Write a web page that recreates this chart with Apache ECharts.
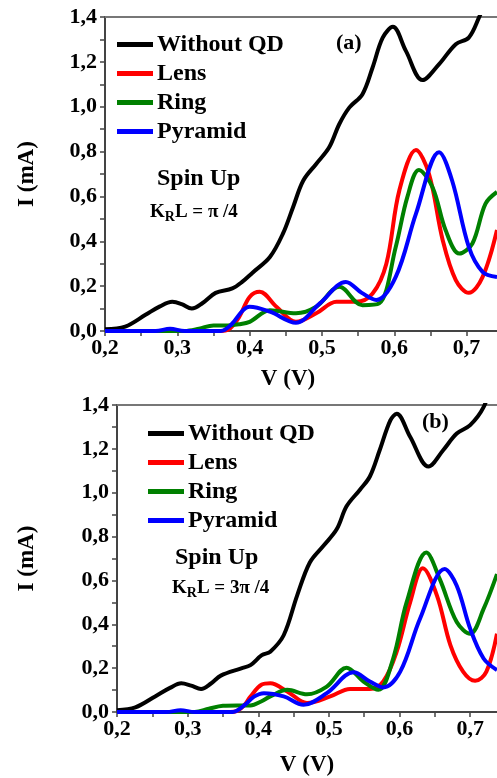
<!DOCTYPE html>
<html>
<head>
<meta charset="utf-8">
<script src="https://cdn.jsdelivr.net/npm/echarts@6/dist/echarts.min.js"></script>
<style>
html,body{margin:0;padding:0;background:#fff;}
#chart{width:497px;height:778px;}
</style>
</head>
<body>
<div id="chart"></div>
<script>
// ---- data: panel (a), K_R L = pi/4 ----
var seriesNames = ['Without QD', 'Lens', 'Ring', 'Pyramid'];
var xTickLabelsNote = ['0,2','0,3','0,4','0,5','0,6','0,7'];
var yTickLabelsNote = ['0,0','0,2','0,4','0,6','0,8','1,0','1,2','1,4'];

var aWithout = [[0.200,0.008],[0.228,0.02],[0.256,0.072],[0.276,0.11],[0.293,0.13],[0.306,0.12],[0.320,0.10],[0.335,0.125],[0.353,0.17],[0.376,0.19],[0.390,0.22],[0.404,0.26],[0.428,0.33],[0.446,0.434],[0.460,0.552],[0.474,0.67],[0.492,0.745],[0.510,0.819],[0.524,0.923],[0.538,0.997],[0.556,1.056],[0.570,1.175],[0.584,1.308],[0.598,1.356],[0.616,1.249],[0.639,1.119],[0.662,1.19],[0.685,1.279],[0.703,1.308],[0.717,1.397],[0.730,1.5]];
var aLens = [[0.200,0],[0.300,0],[0.360,0],[0.370,0.005],[0.385,0.06],[0.400,0.152],[0.414,0.175],[0.437,0.108],[0.464,0.041],[0.492,0.079],[0.520,0.13],[0.547,0.13],[0.570,0.167],[0.589,0.30],[0.607,0.627],[0.630,0.807],[0.648,0.70],[0.667,0.404],[0.685,0.227],[0.703,0.17],[0.722,0.24],[0.742,0.45]];
var aRing = [[0.200,0],[0.310,0],[0.330,0.01],[0.350,0.025],[0.370,0.025],[0.385,0.03],[0.400,0.041],[0.428,0.093],[0.464,0.079],[0.492,0.108],[0.524,0.197],[0.556,0.115],[0.579,0.123],[0.602,0.375],[0.618,0.597],[0.634,0.718],[0.653,0.64],[0.671,0.449],[0.690,0.345],[0.708,0.39],[0.726,0.567],[0.742,0.62]];
var aPyramid = [[0.200,0],[0.270,0],[0.290,0.01],[0.310,0],[0.360,0],[0.375,0.03],[0.390,0.09],[0.400,0.108],[0.428,0.086],[0.464,0.037],[0.497,0.123],[0.533,0.219],[0.555,0.17],[0.575,0.138],[0.602,0.241],[0.630,0.523],[0.662,0.797],[0.680,0.67],[0.703,0.375],[0.722,0.264],[0.742,0.241]];

// ---- data: panel (b), K_R L = 3pi/4 ----
var bWithout = [[0.200,0.008],[0.226,0.021],[0.254,0.071],[0.275,0.11],[0.291,0.131],[0.305,0.12],[0.319,0.105],[0.333,0.13],[0.347,0.166],[0.376,0.199],[0.389,0.214],[0.405,0.259],[0.417,0.275],[0.436,0.35],[0.455,0.531],[0.473,0.682],[0.492,0.757],[0.511,0.833],[0.525,0.938],[0.544,1.014],[0.558,1.074],[0.572,1.195],[0.587,1.33],[0.596,1.36],[0.615,1.255],[0.641,1.119],[0.662,1.195],[0.681,1.27],[0.700,1.308],[0.719,1.39],[0.730,1.5]];
var bLens = [[0.200,0],[0.360,0],[0.370,0.005],[0.380,0.03],[0.389,0.071],[0.405,0.125],[0.417,0.131],[0.441,0.094],[0.469,0.041],[0.502,0.071],[0.530,0.105],[0.558,0.105],[0.577,0.139],[0.596,0.275],[0.615,0.50],[0.633,0.655],[0.653,0.531],[0.672,0.305],[0.690,0.184],[0.707,0.142],[0.723,0.184],[0.738,0.357]];
var bRing = [[0.200,0],[0.310,0],[0.330,0.015],[0.350,0.028],[0.370,0.03],[0.389,0.03],[0.404,0.048],[0.417,0.071],[0.441,0.101],[0.469,0.081],[0.497,0.116],[0.525,0.202],[0.549,0.139],[0.570,0.101],[0.591,0.244],[0.610,0.50],[0.638,0.727],[0.657,0.606],[0.681,0.41],[0.700,0.357],[0.719,0.47],[0.738,0.629]];
var bPyramid = [[0.200,0],[0.270,0],[0.290,0.008],[0.310,0],[0.364,0],[0.380,0.03],[0.394,0.07],[0.408,0.086],[0.436,0.071],[0.464,0.033],[0.497,0.086],[0.535,0.181],[0.558,0.139],[0.577,0.112],[0.601,0.184],[0.629,0.425],[0.664,0.652],[0.681,0.576],[0.700,0.38],[0.719,0.244],[0.738,0.191]];

var colors = ['#000000', '#ff0000', '#008000', '#0000ff'];
var FONT = '"Liberation Serif","Times New Roman",serif';

function fmtX(v){
  if (Math.abs(v*10 - Math.round(v*10)) > 1e-6) return '';
  return v.toFixed(1).replace('.', ',');
}
function fmtY(v){
  var k = Math.round(v*10);
  if (Math.abs(v*10 - k) > 1e-6 || k % 2 !== 0) return '';
  return v.toFixed(1).replace('.', ',');
}

function xAx(grid, xmax, gap, gapPad){
  return {
    type:'value', gridIndex:grid, min:0.2, max:xmax, interval:0.05,
    name:'V (V)', nameLocation:'middle', nameGap:gap,
    nameTextStyle:{fontFamily:FONT, fontWeight:'bold', fontSize:23, color:'#000', padding:gapPad},
    axisLine:{show:true, lineStyle:{color:'#444', width:2}},
    axisTick:{show:true, length:5, lineStyle:{color:'#444', width:1.5}},
    axisLabel:{formatter:fmtX, fontFamily:FONT, fontWeight:'bold', fontSize:22, color:'#000', margin:6, showMaxLabel:false},
    splitLine:{show:false}
  };
}
function xTop(grid, xmax){
  return {
    type:'value', gridIndex:grid, position:'top', min:0.2, max:xmax,
    axisLine:{show:true, lineStyle:{color:'#777', width:2}},
    axisTick:{show:false}, axisLabel:{show:false}, splitLine:{show:false}
  };
}
function yAx(grid, gap){
  return {
    type:'value', gridIndex:grid, min:0, max:1.4, interval:0.1,
    name:'I (mA)', nameLocation:'middle', nameGap:gap,
    nameTextStyle:{fontFamily:FONT, fontWeight:'bold', fontSize:23, color:'#000'},
    axisLine:{show:true, lineStyle:{color:'#444', width:2}},
    axisTick:{show:true, length:5, lineStyle:{color:'#444', width:1.5}},
    axisLabel:{formatter:fmtY, fontFamily:FONT, fontWeight:'bold', fontSize:22, color:'#000', margin:8},
    splitLine:{show:false}
  };
}
function ser(name, data, idx, color){
  return {
    type:'line', name:name, data:data, xAxisIndex:idx, yAxisIndex:idx,
    showSymbol:false, symbol:'none', smooth:0.35, clip:true,
    lineStyle:{color:color, width:4}, itemStyle:{color:color}
  };
}
function legendAt(left, top){
  return {
    orient:'vertical', left:left, top:top, itemGap:0,
    itemWidth:36, itemHeight:5, icon:'rect',
    data:seriesNames, selectedMode:false,
    textStyle:{fontFamily:FONT, fontWeight:'bold', fontSize:24, color:'#000', lineHeight:29, padding:[0,0,0,-1]}
  };
}
function txt(x, y, text, size){
  return {type:'text', left:x, top:y, style:{text:text, fontFamily:FONT, fontWeight:'bold', fontSize:size, fill:'#000'}};
}
function krl(x, y, frac){
  return {type:'text', left:x, top:y, style:{
    text:'{k|K}{s|R}{k|L = ' + frac + '}',
    rich:{
      k:{fontFamily:FONT, fontWeight:'bold', fontSize:19, fill:'#000', color:'#000'},
      s:{fontFamily:FONT, fontWeight:'bold', fontSize:14, fill:'#000', color:'#000', padding:[9,0,0,0]}
    }
  }};
}

var chart = echarts.init(document.getElementById('chart'), null, {renderer:'canvas'});
chart.setOption({
  backgroundColor:'#fff',
  animation:false,
  grid:[
    {left:105, top:17, right:0, bottom:447},
    {left:117, top:405, right:0, bottom:64}
  ],
  xAxis:[xAx(0, 0.742, 37, [0,26,0,0]), xAx(1, 0.738, 42, [0,0,0,0]), xTop(0, 0.742), xTop(1, 0.738)],
  yAxis:[yAx(0, 66), yAx(1, 78)],
  legend:[legendAt(112, 25), legendAt(143, 414)],
  series:[
    ser(seriesNames[0], aWithout, 0, colors[0]),
    ser(seriesNames[1], aLens, 0, colors[1]),
    ser(seriesNames[2], aRing, 0, colors[2]),
    ser(seriesNames[3], aPyramid, 0, colors[3]),
    ser(seriesNames[0], bWithout, 1, colors[0]),
    ser(seriesNames[1], bLens, 1, colors[1]),
    ser(seriesNames[2], bRing, 1, colors[2]),
    ser(seriesNames[3], bPyramid, 1, colors[3])
  ],
  graphic:[
    txt(157, 167, 'Spin Up', 24),
    krl(150, 203, 'π /4'),
    txt(336, 32, '(a)', 22),
    txt(175, 546, 'Spin Up', 24),
    krl(172, 579, '3π /4'),
    txt(422, 411, '(b)', 22)
  ]
});
</script>
</body>
</html>
